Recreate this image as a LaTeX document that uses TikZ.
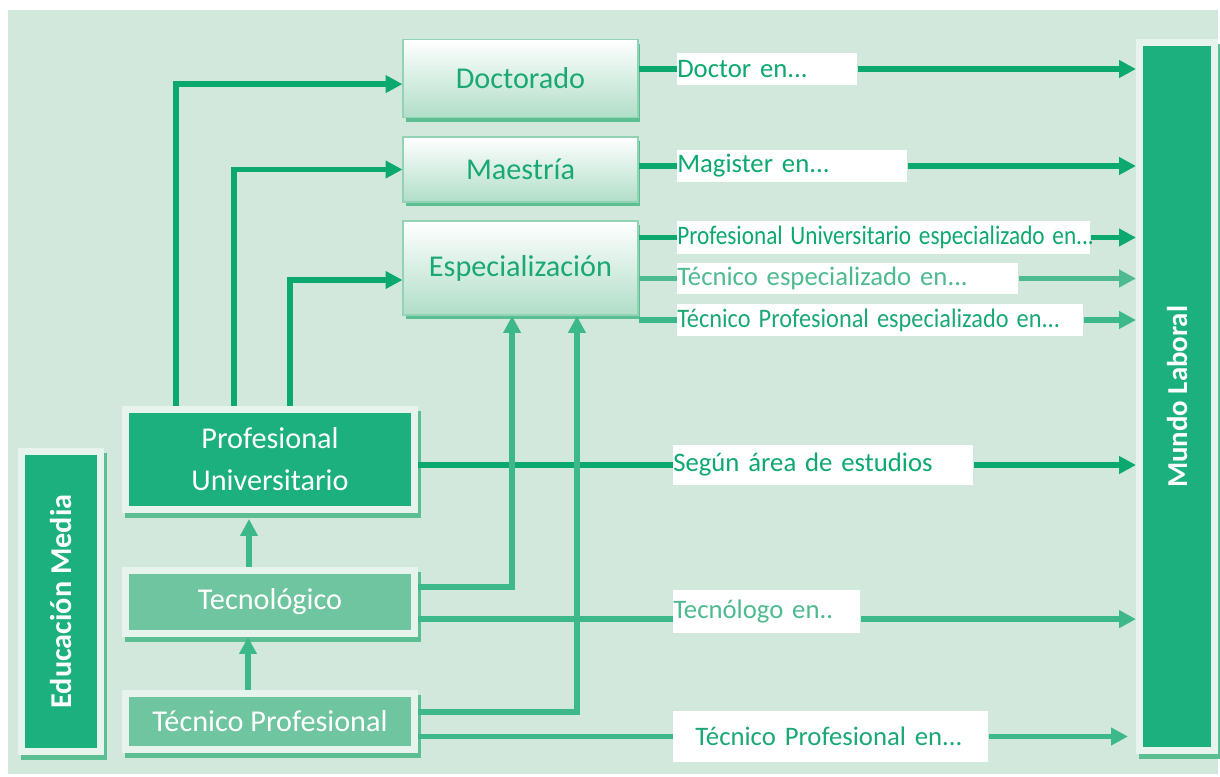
\documentclass[tikz,border=0pt]{standalone}
\usepackage{fontspec}
\setmainfont{Carlito}
\usetikzlibrary{arrows.meta,shadows}

\definecolor{fondo}{HTML}{D2E8DC}
\definecolor{verde}{HTML}{1BB07E}
\definecolor{verdeclaro}{HTML}{6FC5A0}
\definecolor{marco}{HTML}{E6F4ED}
\definecolor{sombra}{HTML}{5CBE93}
\definecolor{flecha}{HTML}{0CA96E}
\definecolor{flechaclara}{HTML}{3DB88A}
\definecolor{flechasuave}{HTML}{4DBB8F}
\definecolor{textoverde}{HTML}{1AA874}
\definecolor{borde}{HTML}{93D3B5}
\definecolor{degradado}{HTML}{B0DEC8}

\tikzset{
    nivel/.style={rectangle, draw=borde, line width=1.4pt, top color=white, bottom color=degradado,
        text=textoverde, font=\fontsize{21.5}{24}\selectfont, minimum width=5.85cm,
        drop shadow={shadow xshift=2pt, shadow yshift=-3pt, opacity=1, fill=sombra}},
    caja/.style={rectangle, draw=marco, line width=5pt, fill=verde, text=white, align=center,
        font=\fontsize{21.5}{30}\selectfont,
        drop shadow={shadow xshift=2pt, shadow yshift=-3.5pt, opacity=1, fill=sombra, draw=sombra, line width=5pt}},
    titulo/.style={anchor=west, fill=white, inner xsep=0pt, inner ysep=0pt, align=left,
        font=\fontsize{19}{22}\selectfont, text=flecha},
    linea/.style={line width=3.8pt, draw=flecha},
    flechaf/.style={linea, -{Triangle[length=12pt,width=12pt]}},
}

\begin{document}
\begin{tikzpicture}[x=0.025cm, y=-0.025cm]
    \useasboundingbox (0,0) rectangle (1220,776);
    \fill[fondo] (8,10) rectangle (1218,774); % fondo

    % niveles de postgrado
    \node[nivel, minimum height=1.95cm] (doct) at (520.5,78.5) {Doctorado};
    \node[nivel, minimum height=1.625cm] (mae) at (520.5,169.5) {Maestría};
    \node[nivel, minimum height=2.35cm] (esp) at (520.5,268) {Especialización};

    % cajas de la izquierda
    \node[caja, minimum width=1.975cm, minimum height=7.5cm] (edu) at (61,601.5)
        {\rotatebox{90}{\bfseries Educación Media}};
    \node[caja, minimum width=7.21cm, minimum height=2.5cm] (pu) at (270,459.5)
        {Profesional\\Universitario};
    \node[caja, fill=verdeclaro, minimum width=7.21cm, minimum height=1.575cm] (tecn) at (270,602)
        {Tecnológico};
    \node[caja, fill=verdeclaro, minimum width=7.21cm, minimum height=1.4cm] (tp) at (270,721.5)
        {Técnico Profesional};
    \node[caja, minimum width=1.875cm, minimum height=17.69cm] (mundo) at (1177,396.75)
        {\rotatebox{90}{\fontsize{20.5}{24}\selectfont\bfseries Mundo Laboral}};

    % titulos
    \node[titulo, text width=4.5cm, minimum height=0.8cm] (docl) at (677,69) {Doctor en...};
    \node[titulo, text width=5.75cm, minimum height=0.8cm] (magl) at (677,166) {Magister en...};
    \node[titulo, text width=10.325cm, minimum height=0.825cm] (puel) at (677,237.5)
        {\scalebox{0.87}[1]{Profesional Universitario especializado en...}};
    \node[titulo, text=flechasuave, text width=8.525cm, minimum height=0.775cm] (teel) at (677,278.5)
        {Técnico especializado en...};
    \node[titulo, text=textoverde, text width=10.15cm, minimum height=0.8cm] (tpel) at (677,320)
        {\scalebox{0.91}[1]{Técnico Profesional especializado en...}};
    \node[titulo, text width=7.5cm, minimum height=1cm] (segl) at (673,465) {Según área de estudios};
    \node[titulo, text=flechasuave, text width=4.675cm, minimum height=1.075cm] (tecl) at (673,611.5)
        {Tecnólogo en..};
    \node[titulo, text=textoverde, text width=7.875cm, minimum height=1.275cm] (tpl) at (673,736.5)
        {\hspace*{0.55cm}Técnico Profesional en...};
    \coordinate (tecin) at ([yshift=-0.19cm]tecl.west);
    \coordinate (tecout) at ([yshift=-0.19cm]tecl.east);

    % salidas hacia el mundo laboral
    \draw[linea] (doct.east |- docl.west) -- (docl.west);
    \draw[flechaf] (docl.east) -- (docl.east -| mundo.west);
    \draw[linea] (mae.east |- magl.west) -- (magl.west);
    \draw[flechaf] (magl.east) -- (magl.east -| mundo.west);
    \draw[linea] (esp.east |- puel.west) -- (puel.west);
    \draw[flechaf] (puel.east) -- (puel.east -| mundo.west);
    \draw[linea, draw=flechasuave] (esp.east |- teel.west) -- (teel.west);
    \draw[flechaf, draw=flechasuave] (teel.east) -- (teel.east -| mundo.west);
    \draw[linea, draw=flechaclara] (esp.east |- tpel.west) -- (tpel.west);
    \draw[flechaf, draw=flechaclara] (tpel.east) -- (tpel.east -| mundo.west);
    \draw[linea] (pu.east |- segl.west) -- (segl.west);
    \draw[flechaf] (segl.east) -- (segl.east -| mundo.west);
    \draw[linea, draw=flechaclara] (tecn.east |- tecin) -- (tecin);
    \draw[flechaf, draw=flechaclara] (tecout) -- (tecout -| mundo.west);
    \draw[linea, draw=flechaclara] (tp.east |- tpl.west) -- (tpl.west);
    \draw[flechaf, draw=flechaclara] (tpl.east) -- ([xshift=-0.2cm]tpl.east -| mundo.west);

    % subidas
    \draw[flechaf] ([xshift=-2.35cm]pu.north) |- ([yshift=-0.14cm]doct.west);
    \draw[flechaf] ([xshift=-0.9cm]pu.north) |- (mae.west);
    \draw[flechaf] ([xshift=0.5cm]pu.north) |- ([yshift=-0.3cm]esp.west);
    \draw[flechaf, draw=flechaclara] ([yshift=0.375cm]tecn.east) -| ([xshift=-0.21cm]esp.south);
    \draw[flechaf, draw=flechaclara] ([yshift=0.24cm]tp.east) -| ([xshift=1.41cm]esp.south);
    \draw[flechaf, draw=flechaclara] ([xshift=-0.525cm]tecn.north) -- ([xshift=-0.525cm, yshift=-0.15cm]pu.south);
    \draw[flechaf, draw=flechaclara] ([xshift=-0.55cm]tp.north) -- ([xshift=-0.55cm]tecn.south);

\end{tikzpicture}
\end{document}
